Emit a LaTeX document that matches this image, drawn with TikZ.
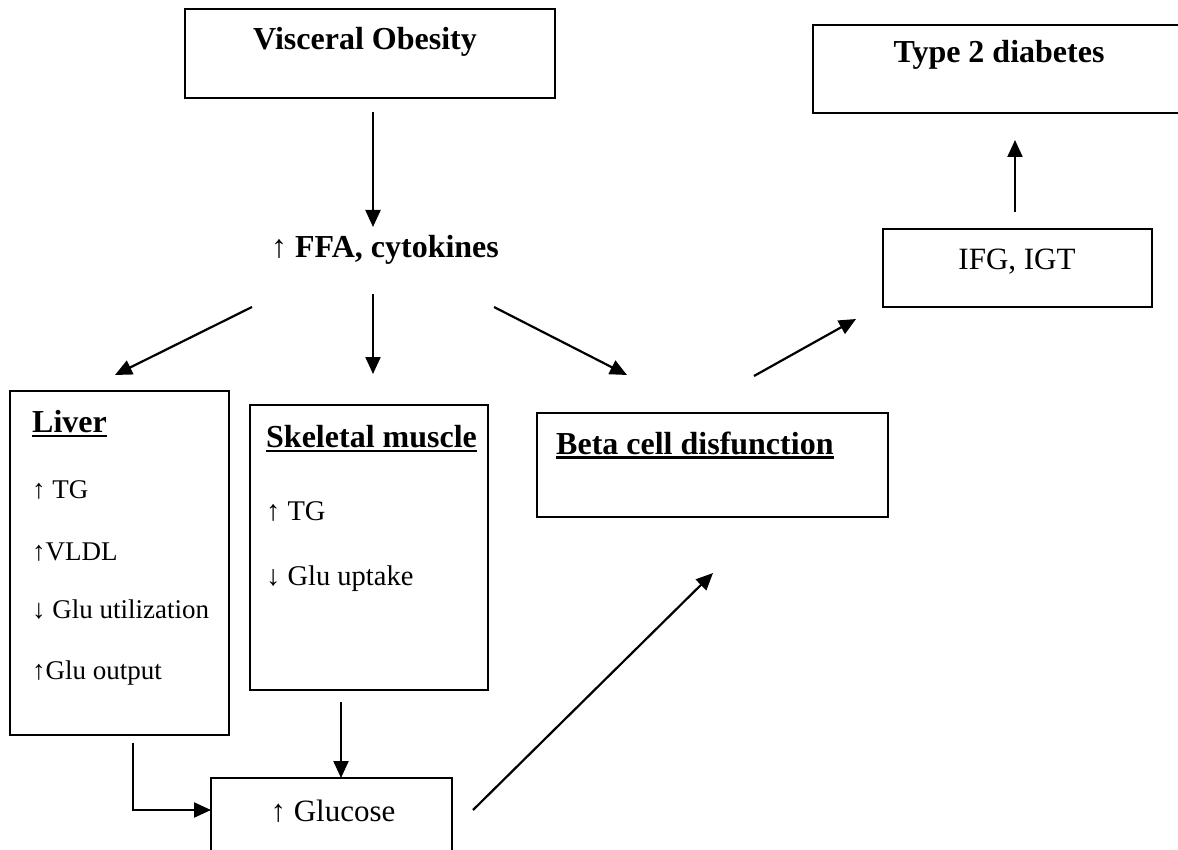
\documentclass[tikz,border=0pt]{standalone}
\usepackage{fontspec}
\setmainfont{Liberation Serif}
\usetikzlibrary{arrows.meta}
\newcommand\myul[1]{\setbox0\hbox{#1}\rlap{\rule[-4.5pt]{\wd0}{2.4pt}}\box0}
\tikzset{
  box/.style={draw, line width=2.6pt, inner sep=0pt, outer sep=0pt},
  arr/.style={line width=2.2pt, -{Triangle[length=17pt,width=15pt]}},
  hd/.style={font=\fontsize{32}{38}\selectfont\bfseries, inner sep=0pt},
  hdl/.style={font=\fontsize{32}{38}\selectfont\bfseries, inner sep=0pt, anchor=west},
  tx/.style={font=\fontsize{28.5}{34}\selectfont, inner sep=0pt, anchor=west},
  txl/.style={font=\fontsize{27}{32}\selectfont, inner sep=0pt, anchor=west},
  tc/.style={font=\fontsize{31}{36}\selectfont, inner sep=0pt}
}
\begin{document}
\begin{tikzpicture}[x=1pt,y=-1pt]
\clip (0,0) rectangle (1178,850);
\useasboundingbox (0,0) rectangle (1178,850);
\fill[white] (0,0) rectangle (1178,850);
% boxes
\node[box, minimum width=370pt, minimum height=89pt] (vo) at (370,53.5) {};
\node[box, minimum width=377pt, minimum height=88pt] (t2d) at (1001.5,69) {};
\node[box, minimum width=269pt, minimum height=78pt] (ifg) at (1017.5,268) {};
\node[box, minimum width=219pt, minimum height=344pt] (liver) at (119.5,563) {};
\node[box, minimum width=238pt, minimum height=285pt] (skm) at (369,547.5) {};
\node[box, minimum width=351pt, minimum height=104pt] (beta) at (712.5,465) {};
\node[box, minimum width=241pt, minimum height=90pt] (glu) at (331.5,823) {};
% texts
\node[hd] (tvo) at (365,42) {Visceral Obesity};
\node[hd] (tt2d) at (999,55) {Type 2 diabetes};
\node[tc] (tifg) at (1017,262) {IFG, IGT};
\node[hd] (ffa) at (385,250) {↑ FFA, cytokines};
\node[hdl] (tl0) at (32,424) {\myul{Liver}};
\node[txl] (tl1) at (32,490) {↑ TG};
\node[txl] (tl2) at (32,552) {↑VLDL};
\node[txl] (tl3) at (32,610) {↓ Glu utilization};
\node[txl] (tl4) at (32,673) {↑Glu output};
\node[hdl] (ts0) at (266,439) {\myul{Skeletal muscle}};
\node[tx] (ts1) at (266,511) {↑ TG};
\node[tx] (ts2) at (266,579) {↓ Glu uptake};
\node[hdl] (tb0) at (556,445) {\myul{Beta cell disfunction}};
\node[tc] (tglu) at (333,811) {↑ Glucose};
% connector ends
\coordinate (a1s) at (373,112); \coordinate (a1e) at (373,227);
\coordinate (a2s) at (252,307); \coordinate (a2e) at (115,375);
\coordinate (a3s) at (373,294); \coordinate (a3e) at (373,374);
\coordinate (a4s) at (494,307); \coordinate (a4e) at (627,375);
\coordinate (a5s) at (133,743); \coordinate (a5m) at (133,810);
\coordinate (a6s) at (341,702);
\coordinate (a7s) at (473,810); \coordinate (a7e) at (713,573);
\coordinate (a8s) at (754,376); \coordinate (a8e) at (856,319);
\coordinate (a9s) at (1015,212); \coordinate (a9e) at (1015,140);
% connectors
\draw[arr] (a1s) -- (a1e);
\draw[arr] (a2s) -- (a2e);
\draw[arr] (a3s) -- (a3e);
\draw[arr] (a4s) -- (a4e);
\draw[arr] (a5s) -- (a5m) -- (glu.west |- a5m);
\draw[arr] (a6s) -- (a6s |- glu.north);
\draw[arr] (a7s) -- (a7e);
\draw[arr] (a8s) -- (a8e);
\draw[arr] (a9s) -- (a9e);
\end{tikzpicture}
\end{document}
